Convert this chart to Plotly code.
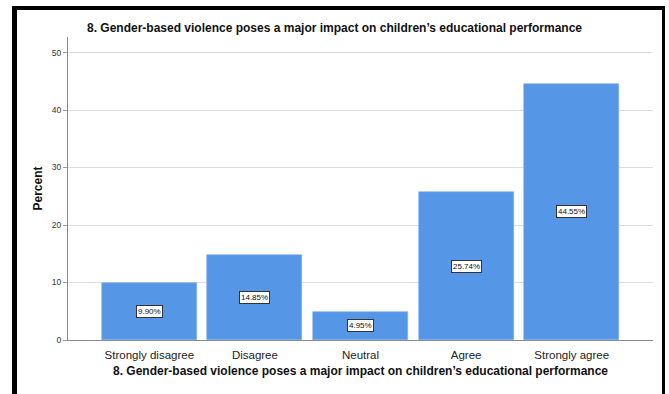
import plotly.graph_objects as go

# Survey responses for statement 8
categories = ["Strongly disagree", "Disagree", "Neutral", "Agree", "Strongly agree"]
percent = [9.90, 14.85, 4.95, 25.74, 44.55]
y_ticks = [0, 10, 20, 30, 40, 50]

question = "8. Gender-based violence poses a major impact on children\u2019s educational performance"

W, H = 669, 394
L, R, T, B = 68, 16, 37, 54
plot_w = W - L - R
plot_h = H - T - B

FONT = "Liberation Sans, Arial, sans-serif"
BAR = "#5596e6"


def px_x(p):
    return (p - L) / plot_w


def px_y(p):
    return (H - B - p) / plot_h


fig = go.Figure()
fig.add_trace(
    go.Bar(
        x=list(range(len(categories))),
        y=percent,
        width=0.9,
        marker=dict(color=BAR, line=dict(color="#7fb0ee", width=0.6)),
        hoverinfo="skip",
    )
)

# value boxes at mid-height of each bar
annotations = []
for i, v in enumerate(percent):
    annotations.append(
        dict(
            x=i, y=v / 2, xref="x", yref="y",
            text=f"{v:.2f}%", showarrow=False,
            font=dict(family=FONT, size=8, color="#111111"),
            bgcolor="white", bordercolor="#333333", borderwidth=1, borderpad=1,
        )
    )

# axis titles
annotations.append(
    dict(
        x=0.5, y=px_y(371), xref="paper", yref="paper",
        text=f"<b>{question}</b>", showarrow=False,
        font=dict(family=FONT, size=12, color="#111111"),
        xanchor="center", yanchor="middle",
    )
)
annotations.append(
    dict(
        x=px_x(37), y=0.5, xref="paper", yref="paper",
        text="<b>Percent</b>", showarrow=False, textangle=-90,
        font=dict(family=FONT, size=12, color="#111111"),
        xanchor="center", yanchor="middle",
    )
)

# black frame around the chart
frame = [
    (12, 6, 665, 10),   # top
    (12, 6, 17, 394),   # left
    (662, 6, 665, 394),  # right
]
shapes = []
for x0, y0, x1, y1 in frame:
    shapes.append(
        dict(
            type="rect", xref="paper", yref="paper",
            x0=px_x(x0), x1=px_x(x1), y0=px_y(y1), y1=px_y(y0),
            fillcolor="black", line=dict(width=0), layer="above",
        )
    )

fig.update_layout(
    width=W, height=H,
    margin=dict(l=L, r=R, t=T, b=B, pad=0),
    paper_bgcolor="white", plot_bgcolor="white",
    showlegend=False,
    bargap=0,
    title=dict(
        text=f"<b>{question}</b>",
        x=0.5, xref="container", xanchor="center",
        y=1 - 28 / H, yref="container", yanchor="middle",
        font=dict(family=FONT, size=12, color="#111111"),
    ),
    annotations=annotations,
    shapes=shapes,
    xaxis=dict(
        range=[-0.77, 4.77],
        tickmode="array",
        tickvals=list(range(len(categories))),
        ticktext=categories,
        ticks="",
        ticklabelstandoff=4,
        tickfont=dict(family=FONT, size=11.5, color="#222222"),
        showline=True, linecolor="#8a8a8a", linewidth=1,
        showgrid=False, zeroline=False,
        fixedrange=True,
    ),
    yaxis=dict(
        range=[0, 52.7],
        tickmode="array",
        tickvals=y_ticks,
        ticks="outside", ticklen=4, tickcolor="#9a9a9a", tickwidth=1,
        tickfont=dict(family=FONT, size=8.5, color="#333333"),
        showline=True, linecolor="#8a8a8a", linewidth=1,
        showgrid=True, gridcolor="#dcdcdc", gridwidth=1,
        zeroline=False,
        fixedrange=True,
    ),
)

fig.write_html("out.html")
